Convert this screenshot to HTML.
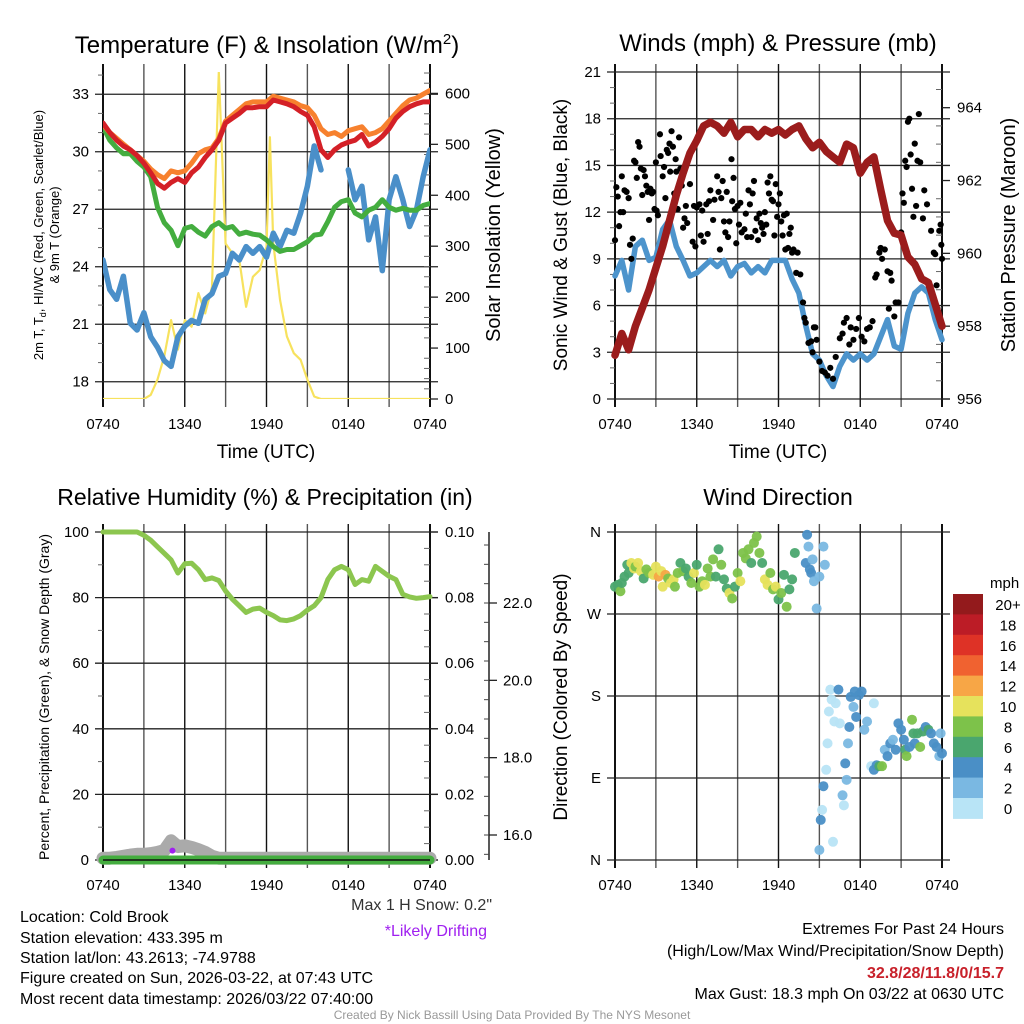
<!DOCTYPE html>
<html><head><meta charset="utf-8"><style>
html,body{margin:0;padding:0;background:#fff}
svg{display:block;font-family:"Liberation Sans",Arial,sans-serif}
</style></head><body>
<svg id="fig" width="1024" height="1024" viewBox="0 0 1024 1024" xmlns="http://www.w3.org/2000/svg">
<rect width="1024" height="1024" fill="#fff"/>
<g id="tl"></g>
<g id="tr"></g>
<g id="bl"></g>
<g id="br"></g>

<text x="267" y="53" font-size="24" text-anchor="middle">Temperature (F) &amp; Insolation (W/m<tspan dy="-9" font-size="15">2</tspan><tspan dy="9">)</tspan></text>
<text x="778" y="51" font-size="24" text-anchor="middle">Winds (mph) &amp; Pressure (mb)</text>
<text x="265" y="505" font-size="23" text-anchor="middle">Relative Humidity (%) &amp; Precipitation (in)</text>
<text x="778" y="505" font-size="23" text-anchor="middle">Wind Direction</text>

<text x="266" y="458" font-size="19" text-anchor="middle">Time (UTC)</text>
<text x="778" y="458" font-size="19" text-anchor="middle">Time (UTC)</text>

<g transform="translate(43,235) rotate(-90)">
<text x="0" y="0" font-size="13" text-anchor="middle">2m T, T<tspan font-size="9" dy="3">d</tspan><tspan dy="-3">, HI/WC (Red, Green, Scarlet/Blue)</tspan></text>
<text x="0" y="16" font-size="13" text-anchor="middle">&amp; 9m T (Orange)</text>
</g>
<text transform="translate(500,235) rotate(-90)" font-size="20" text-anchor="middle">Solar Insolation (Yellow)</text>
<text transform="translate(567,235) rotate(-90)" font-size="19" text-anchor="middle">Sonic Wind &amp; Gust (Blue, Black)</text>
<text transform="translate(1015,235) rotate(-90)" font-size="20" text-anchor="middle">Station Pressure (Maroon)</text>
<text transform="translate(49,697) rotate(-90)" font-size="14" text-anchor="middle">Percent, Precipitation (Green), &amp; Snow Depth (Gray)</text>
<text transform="translate(567,697) rotate(-90)" font-size="19" text-anchor="middle">Direction (Colored By Speed)</text>

<text x="492" y="910" font-size="16" fill="#333" text-anchor="end">Max 1 H Snow: 0.2"</text>
<text x="487" y="936" font-size="16" fill="#a020f0" text-anchor="end">*Likely Drifting</text>

<g font-size="16">
<text x="20" y="922">Location: Cold Brook</text>
<text x="20" y="943">Station elevation: 433.395 m</text>
<text x="20" y="963">Station lat/lon: 43.2613; -74.9788</text>
<text x="20" y="983">Figure created on Sun, 2026-03-22, at 07:43 UTC</text>
<text x="20" y="1004">Most recent data timestamp: 2026/03/22 07:40:00</text>
</g>
<g font-size="16" text-anchor="end">
<text x="1004" y="934">Extremes For Past 24 Hours</text>
<text x="1004" y="956">(High/Low/Max Wind/Precipitation/Snow Depth)</text>
<text x="1004" y="978" fill="#c8202a" font-weight="bold">32.8/28/11.8/0/15.7</text>
<text x="1004" y="999">Max Gust: 18.3 mph On 03/22 at 0630 UTC</text>
</g>
<text x="512" y="1019" font-size="12" fill="#999" text-anchor="middle">Created By Nick Bassill Using Data Provided By The NYS Mesonet</text>
</svg>
<script>
// ---------- data ----------
const timeLabels = ["0740","1340","1940","0140","0740"];
const hrs = Array.from({length:49},(_,i)=>i*0.5);
const tempRed = [31.5,31.0,30.6,30.3,30.1,29.8,29.4,28.9,28.35,28.1,28.4,28.6,28.4,28.9,29.2,29.7,30.1,30.6,31.5,31.75,32.0,32.3,32.3,32.35,32.35,32.7,32.6,32.5,32.35,32.1,31.9,31.3,30.1,29.7,30.1,30.35,30.5,30.6,30.9,30.3,30.5,30.8,31.2,31.75,32.1,32.35,32.5,32.6,32.6];
const tempOrange = [31.4,31.0,30.7,30.4,30.1,29.8,29.5,29.1,28.8,28.6,29.0,28.9,29.0,29.4,29.9,30.1,30.2,30.7,31.6,31.9,32.2,32.5,32.6,32.6,32.6,32.9,32.8,32.7,32.6,32.4,32.3,31.9,31.2,30.9,31.0,30.8,31.1,31.2,31.3,30.9,31.0,31.2,31.6,32.0,32.4,32.7,32.8,33.0,33.2];
const tempGreen = [31.3,30.6,30.2,29.9,29.9,29.5,29.2,28.7,27.1,26.3,25.9,25.1,26.0,26.1,25.8,25.6,26.1,26.3,26.0,26.1,25.7,25.8,25.7,25.65,25.4,25.05,24.8,24.9,24.9,25.1,25.3,25.65,25.7,26.35,27.1,27.4,27.5,26.8,26.6,26.95,27.1,27.5,27.1,26.95,27.05,26.95,26.95,27.2,27.3];
const tempBlue = [24.35,22.8,22.3,23.5,21.05,20.7,21.6,20.35,19.8,19.1,18.8,20.35,20.9,21.2,21.05,22.3,22.6,23.5,23.65,24.7,24.35,25.05,24.7,25.05,24.5,25.75,25.05,25.9,25.75,26.8,28.2,30.3,29.05,null,null,null,29.05,27.5,28.2,25.4,26.6,23.8,27.5,28.7,27.5,26.1,26.95,28.7,30.1];
const solarT = [0,3,3.5,4,4.5,5,5.5,6,6.5,7,7.5,8,8.5,9,9.5,10,10.5,11,11.5,12,12.25,12.5,13,13.5,14,14.5,15,15.5,16,24];
const solarV = [0,0,8,38,84,155,97,155,142,208,168,220,642,305,286,273,181,240,253,299,514,305,194,123,90,77,38,5,0,0];
const windBlue = [7.9,8.9,7.0,9.8,10.2,8.9,9.1,10.9,11.5,9.8,8.9,7.9,8.1,8.5,8.9,8.5,8.9,7.9,8.5,8.7,8.1,8.5,8.1,8.9,8.9,8.9,7.7,6.8,4.7,2.9,2.5,1.5,0.8,2.1,2.9,2.5,2.9,2.5,2.9,4.0,5.1,3.4,3.2,5.5,6.8,7.2,6.8,5.1,3.8];
const pressure = [957.2,957.8,957.35,958.0,958.5,959.0,959.6,960.2,960.9,961.6,962.2,962.75,963.1,963.5,963.6,963.5,963.3,963.6,963.2,963.4,963.4,963.2,963.4,963.3,963.4,963.25,963.4,963.5,963.15,962.9,963.05,962.8,962.65,962.5,963.0,962.9,962.2,962.5,962.65,961.75,960.9,960.55,960.5,959.9,959.7,959.3,959.2,958.6,958.0];
const gustT = [0.0,0.1,0.2,0.3,0.4,0.5,0.6,0.7,0.85,1.0,1.1,1.2,1.3,1.4,1.5,1.6,1.7,1.8,1.9,2.0,2.1,2.2,2.3,2.4,2.5,2.6,2.7,2.8,2.9,3.0,3.05,3.15,3.3,3.35,3.5,3.6,3.7,3.8,3.9,4.0,4.05,4.15,4.25,4.35,4.45,4.5,4.6,4.7,4.8,4.9,5.0,5.1,5.2,5.3,5.5,5.7,5.8,5.9,6.0,6.2,6.3,6.4,6.5,6.7,6.8,6.9,7.0,7.2,7.3,7.5,7.6,7.7,7.8,7.9,8.0,8.1,8.2,8.3,8.4,8.55,8.6,8.7,8.8,8.9,9.0,9.1,9.2,9.3,9.5,9.6,9.7,9.8,9.9,10.0,10.1,10.2,10.3,10.4,10.5,10.6,10.7,10.8,10.9,11.0,11.1,11.2,11.3,11.4,11.5,11.6,11.7,11.8,11.9,12.0,12.1,12.2,12.3,12.4,12.5,12.6,12.7,12.8,12.9,13.0,13.1,13.3,13.4,13.6,13.8,13.9,14.0,14.2,14.4,14.5,14.6,14.7,14.8,15.0,15.2,15.4,15.6,15.8,16.0,16.2,16.5,16.7,16.8,17.0,17.2,17.3,17.5,17.7,17.9,18.1,18.3,18.5,18.7,18.9,19.1,19.2,19.4,19.5,19.6,19.8,20.0,20.1,20.2,20.3,20.5,20.6,20.8,21.0,21.1,21.2,21.3,21.4,21.5,21.6,21.7,21.8,21.9,22.0,22.1,22.2,22.3,22.4,22.6,22.7,22.9,23.2,23.4,23.5,23.6,23.8,23.9,23.95,24.0];
const gustV = [10.2,13.6,13.0,11.1,12.0,14.3,12.0,13.4,13.3,12.9,9.9,9.0,10.3,15.3,15.2,14.2,16.5,16.2,14.8,13.1,14.7,14.3,13.7,13.3,11.5,13.5,13.2,13.3,12.2,15.2,12.1,11.8,17.0,15.6,14.3,14.9,12.9,16.0,15.8,16.4,14.6,17.2,16.2,13.2,15.4,14.6,12.2,16.8,14.8,13.7,11.0,11.6,12.4,11.3,13.8,10.1,12.4,9.8,12.3,12.5,10.5,12.1,10.1,12.5,10.6,12.7,13.4,11.5,12.8,14.3,13.3,9.6,12.9,14.0,11.4,10.7,13.3,10.4,11.4,15.4,12.7,14.2,12.2,10.0,12.4,11.2,12.6,10.7,10.9,11.9,10.4,13.4,12.5,10.4,13.2,14.0,10.8,11.6,10.2,11.9,11.3,11.0,10.6,12.0,11.2,13.9,13.2,14.3,12.8,12.7,10.5,13.8,11.7,12.5,13.2,11.4,10.5,11.8,9.6,11.9,9.7,10.6,11.0,9.4,9.6,8.1,9.4,8.0,6.2,5.2,4.9,3.6,3.7,3.0,4.6,4.6,3.8,2.4,1.8,1.7,1.5,2.0,1.3,2.7,3.9,4.2,4.9,5.2,3.5,4.6,3.8,4.5,5.2,4.0,3.7,4.5,4.6,5.0,7.8,8.0,9.4,9.7,9.0,9.6,8.2,5.8,8.1,7.6,5.3,6.2,6.2,10.7,13.2,12.6,15.3,14.9,17.8,18.0,15.7,13.5,11.7,16.4,12.4,15.3,18.3,15.2,11.6,13.4,12.5,10.8,9.4,9.3,7.3,10.8,11.2,9.9,9.0];
const rh = [100,100,100,100,100,100,99,97.5,95.5,93.5,91.5,87.5,90.3,90.5,88.5,85.5,86,85.2,82,79.5,77.5,75.5,76.5,76.8,75.5,74.5,73.2,73,73.5,74.5,76.2,77.5,80,85.5,88.5,89.5,88.5,84,85.5,85,89.5,88,86.5,85.5,81,80.2,79.8,80,80.3];
const precip = [0,0,0,0,0,0,0,0,0,0,0,0,0,0,0,0,0,0,0,0,0,0,0,0,0,0,0,0,0,0,0,0,0,0,0,0,0,0,0,0,0,0,0,0,0,0,0,0,0];
const snowDepth = [15.4,15.4,15.42,15.45,15.48,15.5,15.5,15.52,15.55,15.6,15.85,15.7,15.72,15.68,15.62,15.55,15.45,15.4,15.4,15.4,15.4,15.4,15.4,15.4,15.4,15.4,15.4,15.4,15.4,15.4,15.4,15.4,15.4,15.4,15.4,15.4,15.4,15.4,15.4,15.4,15.4,15.4,15.4,15.4,15.4,15.4,15.4,15.4,15.4];
const driftT = [5.1];
const driftV = [15.7];
const wdTime = [0.0,0.2,0.4,0.5,0.7,0.9,1.0,1.2,1.4,1.5,1.7,1.9,2.1,2.3,2.5,2.8,3.0,3.2,3.4,3.5,3.7,3.9,4.1,4.3,4.4,4.6,4.8,5.0,5.2,5.4,5.6,5.8,6.0,6.2,6.4,6.6,6.8,7.0,7.2,7.4,7.6,7.8,8.0,8.2,8.4,8.6,8.8,9.0,9.2,9.4,9.6,9.8,10.0,10.2,10.4,10.6,10.8,11.0,11.2,11.4,11.6,11.8,12.0,12.2,12.4,12.6,12.8,13.0,13.2,14.0,14.1,14.2,14.3,14.4,14.5,14.6,14.8,15.0,15.3,15.4,15.0,15.1,15.2,15.3,15.5,15.6,15.7,15.8,15.9,16.0,16.1,16.2,16.4,16.5,16.7,16.8,16.9,17.0,17.1,17.2,17.3,17.5,17.6,17.7,17.9,18.1,18.3,18.5,19.0,18.8,19.0,19.2,19.4,19.6,19.8,20.0,20.2,20.4,20.6,20.8,21.0,21.2,21.3,21.4,21.6,21.8,21.9,22.0,22.2,22.4,22.6,22.8,23.0,23.2,23.4,23.6,23.8,24.0,23.9];
const wdDir = [300,302,295,304,311,324,315,326,320,322,326,317,309,319,315,313,322,311,317,300,313,309,304,308,300,315,326,317,320,311,304,315,324,300,306,302,320,311,330,311,341,324,308,298,293,287,300,315,306,337,331,341,326,348,355,337,326,308,302,315,297,300,286,293,313,278,297,308,337,326,357,344,319,315,330,306,276,311,344,324,11,44,55,81,99,128,163,187,176,20,152,172,187,150,71,60,106,88,128,146,179,168,185,157,181,185,143,152,172,103,99,104,103,103,121,114,128,132,121,150,143,132,121,114,124,154,139,128,139,124,141,146,143,139,128,124,114,117,139];
const wdSpd = [7,6,8,7,6,6,7,10,10,9,10,10,7,8,8,10,10,12,10,10,12,8,10,10,9,8,6,8,7,7,8,10,6,8,8,10,8,8,8,6,6,8,6,6,10,8,6,8,10,8,8,8,6,8,8,8,6,10,10,8,8,10,6,8,6,8,6,6,6,4,4,2,4,4,2,2,2,2,2,2,2,4,0,4,0,0,0,0,0,0,0,0,4,0,2,0,4,2,2,4,4,2,4,4,4,4,2,2,0,0,4,4,6,8,2,4,4,2,4,4,4,4,6,8,4,8,6,4,6,8,6,4,6,4,4,4,2,4,2];
const speedLabels = ["0","2","4","6","8","10","12","14","16","18","20+"];
const speedColors = ["#b8e4f6","#7ab8e2","#4a8fc6","#4aa66e","#7dc24a","#e6e25c","#f7a646","#f06230","#de3226","#bc1c26","#931a1c"];

// ---------- helpers ----------
const NS="http://www.w3.org/2000/svg";
function el(parent,tag,attrs){const e=document.createElementNS(NS,tag);for(const k in attrs)e.setAttribute(k,attrs[k]);parent.appendChild(e);return e;}
function lin(d0,d1,r0,r1){return v=>r0+(v-d0)*(r1-r0)/(d1-d0);}
function pathD(ts,vs,sx,sy){let d="",pen=false;for(let i=0;i<ts.length;i++){if(vs[i]==null){pen=false;continue;}d+=(pen?"L":"M")+sx(ts[i]).toFixed(1)+","+sy(vs[i]).toFixed(1);pen=true;}return d;}

function drawFrame(g,X0,X1,Y0,Y1,sx,yTicks,sy,yLabels,showXLabels){
  for(let h=0;h<=24;h+=3){
    const x=sx(h);
    const gl=el(g,"line",{x1:x,x2:x,y1:Y0-8,y2:Y1+8,stroke:(h%6===0?"#111":"#555"),"stroke-width":(h===0||h===24)?2:1.4});
    
    
  }
  for(let i=0;i<yTicks.length;i++){
    const y=sy(yTicks[i]);
    const hl=el(g,"line",{x1:X0-8,x2:X1+8,y1:y,y2:y,stroke:"#222","stroke-width":1.3});
    
    
    if(yLabels){
      const t=el(g,"text",{x:X0-14,y:y+5,"font-size":15,"text-anchor":"end"});
      t.textContent=yLabels[i];
      
      
    }
  }
  if(showXLabels){
    for(let i=0;i<timeLabels.length;i++){
      const t=el(g,"text",{x:sx(i*6),y:Y1+30,"font-size":15,"text-anchor":"middle"});
      t.textContent=timeLabels[i];
      
      
    }
  }
}
function rightAxis(g,X1,ticks,sy,labels,minor){
  for(let i=0;i<minor.length;i++){
    const m=el(g,"line",{x1:X1-6,x2:X1,y1:sy(minor[i]),y2:sy(minor[i]),stroke:"#666","stroke-width":1});
    
    
  }
  for(let i=0;i<ticks.length;i++){
    const y=sy(ticks[i]);
    const tk=el(g,"line",{x1:X1,x2:X1+8,y1:y,y2:y,stroke:"#222","stroke-width":1.3});
    
    
    const t=el(g,"text",{x:X1+15,y:y+5,"font-size":15});
    t.textContent=labels[i];
    
    
  }
}
function leftMinor(g,X0,vals,sy){
  for(const v of vals){
    const m=el(g,"line",{x1:X0-5,x2:X0,y1:sy(v),y2:sy(v),stroke:"#666","stroke-width":1});
    
    
  }
}
function series(g,ts,vs,sx,sy,color,w,name){
  const p=el(g,"path",{d:pathD(ts,vs,sx,sy),fill:"none",stroke:color,"stroke-width":w,"stroke-linejoin":"round","stroke-linecap":"round"});
  
  
  return p;
}

// ---------- panel 1: temperature ----------
(function(){
  const g=document.getElementById("tl");
  const X0=103,X1=430,Y0=72,Y1=399;
  const sx=lin(0,24,X0,X1), sy=lin(17.1,34.16,Y1,Y0), sr=lin(0,642,Y1,Y0);
  const clip=el(g,"clipPath",{id:"c1"});el(clip,"rect",{x:X0,y:Y0,width:X1-X0,height:Y1-Y0});
  drawFrame(g,X0,X1,Y0,Y1,sx,[18,21,24,27,30,33],sy,["18","21","24","27","30","33"],true);
  leftMinor(g,X0,[19,20,22,23,25,26,28,29,31,32,34],sy);
  rightAxis(g,X1,[0,100,200,300,400,500,600],sr,["0","100","200","300","400","500","600"],[20,40,60,80,120,140,160,180,220,240,260,280,320,340,360,380,420,440,460,480,520,540,560,580,620,640]);
  const d=el(g,"g",{"clip-path":"url(#c1)"});
  series(d,solarT,solarV,sx,sr,"#f7e25e",2.2,"solar-insolation-line");
  series(d,hrs,tempBlue,sx,sy,"#4a8fc9",5.5,"wind-chill-line");
  series(d,hrs,tempGreen,sx,sy,"#44ad3f",5,"dewpoint-line");
  series(d,hrs,tempOrange,sx,sy,"#f7812e",5,"temp-9m-line");
  series(d,hrs,tempRed,sx,sy,"#d42027",5,"temp-2m-line");
})();

// ---------- panel 2: winds ----------
(function(){
  const g=document.getElementById("tr");
  const X0=615,X1=942,Y0=72,Y1=399;
  const sx=lin(0,24,X0,X1), sy=lin(0,21,Y1,Y0), sp=lin(956,964,Y1,107.7);
  drawFrame(g,X0,X1,Y0,Y1,sx,[0,3,6,9,12,15,18,21],sy,["0","3","6","9","12","15","18","21"],true);
  leftMinor(g,X0,[1,2,4,5,7,8,10,11,13,14,16,17,19,20],sy);
  rightAxis(g,X1,[956,958,960,962,964],sp,["956","958","960","962","964"],[956.5,957,957.5,958.5,959,959.5,960.5,961,961.5,962.5,963,963.5,964.5]);
  series(g,hrs,windBlue,sx,sy,"#4d94cc",5.5,"sonic-wind-line");
  const gg=el(g,"g",{});
  
  
  for(let i=0;i<gustT.length;i++){
    const c=el(gg,"circle",{cx:sx(gustT[i]),cy:sy(gustV[i]),r:3.1,fill:"#000"});
    
    
  }
  series(g,hrs,pressure,sx,sp,"#9b1c1c",7.5,"pressure-line");
})();

// ---------- panel 3: humidity ----------
(function(){
  const g=document.getElementById("bl");
  const X0=103,X1=430,Y0=532,Y1=860;
  const sx=lin(0,24,X0,X1), sy=lin(0,100,Y1,Y0), spr=lin(0,0.1,Y1,Y0), ss=lin(16,22,835,603);
  drawFrame(g,X0,X1,Y0,Y1,sx,[0,20,40,60,80,100],sy,["0","20","40","60","80","100"],true);
  leftMinor(g,X0,[10,30,50,70,90],sy);
  rightAxis(g,X1,[0,0.02,0.04,0.06,0.08,0.1],spr,["0.00","0.02","0.04","0.06","0.08","0.10"],[0.005,0.01,0.015,0.025,0.03,0.035,0.045,0.05,0.055,0.065,0.07,0.075,0.085,0.09,0.095]);
  const ax=489;
  const al=el(g,"line",{x1:ax,x2:ax,y1:Y0,y2:Y1,stroke:"#222","stroke-width":1.5});
  
  
  const sTicks=[16,18,20,22], sLabels=["16.0","18.0","20.0","22.0"];
  for(let v=15.5;v<=23.5;v+=0.5){
    const m=el(g,"line",{x1:ax-5,x2:ax,y1:ss(v),y2:ss(v),stroke:"#444","stroke-width":1});
    
    
  }
  for(let i=0;i<sTicks.length;i++){
    const y=ss(sTicks[i]);
    const tk=el(g,"line",{x1:ax,x2:ax+8,y1:y,y2:y,stroke:"#222","stroke-width":1.3});
    
    
    const t=el(g,"text",{x:ax+14,y:y+5,"font-size":15});
    t.textContent=sLabels[i];
    
    
  }
  series(g,hrs,snowDepth,sx,ss,"#aaaaaa",13,"snow-depth-line");
  series(g,hrs,precip,sx,spr,"#44ad3f",9,"precipitation-line");
  const bl=el(g,"line",{x1:X0,x2:X1,y1:Y1,y2:Y1,stroke:"#111","stroke-width":1.5});
  
  
  for(let i=0;i<driftT.length;i++){
    const c=el(g,"circle",{cx:sx(driftT[i]),cy:ss(driftV[i])+4,r:3,fill:"#a020f0"});
    
    
  }
  series(g,hrs,rh,sx,sy,"#8cc64f",5,"relative-humidity-line");
})();

// ---------- panel 4: wind direction ----------
(function(){
  const g=document.getElementById("br");
  const X0=615,X1=942,Y0=532,Y1=860;
  const sx=lin(0,24,X0,X1), sy=lin(0,360,Y1,Y0);
  drawFrame(g,X0,X1,Y0,Y1,sx,[0,90,180,270,360],sy,["N","E","S","W","N"],true);
  for(let i=0;i<wdTime.length;i++){
    const bin=Math.min(10,Math.floor(wdSpd[i]/2));
    const c=el(g,"circle",{cx:sx(wdTime[i]),cy:sy(wdDir[i]),r:5,fill:speedColors[bin],"fill-opacity":0.95});
    
    
  }
  const cb=el(g,"g",{});
  
  
  const bx=953,by=594,bh=20.4;
  const ut=el(cb,"text",{x:990,y:588,"font-size":15});
  ut.textContent="mph";
  
  
  for(let i=0;i<speedColors.length;i++){
    const k=speedColors.length-1-i;
    const r=el(cb,"rect",{x:bx,y:by+i*bh,width:30,height:bh+0.5,fill:speedColors[k]});
    
    
    const t=el(cb,"text",{x:1008,y:by+i*bh+16,"font-size":15,"text-anchor":"middle"});
    t.textContent=speedLabels[k];
    
    
  }
})();
</script>
</body></html>
